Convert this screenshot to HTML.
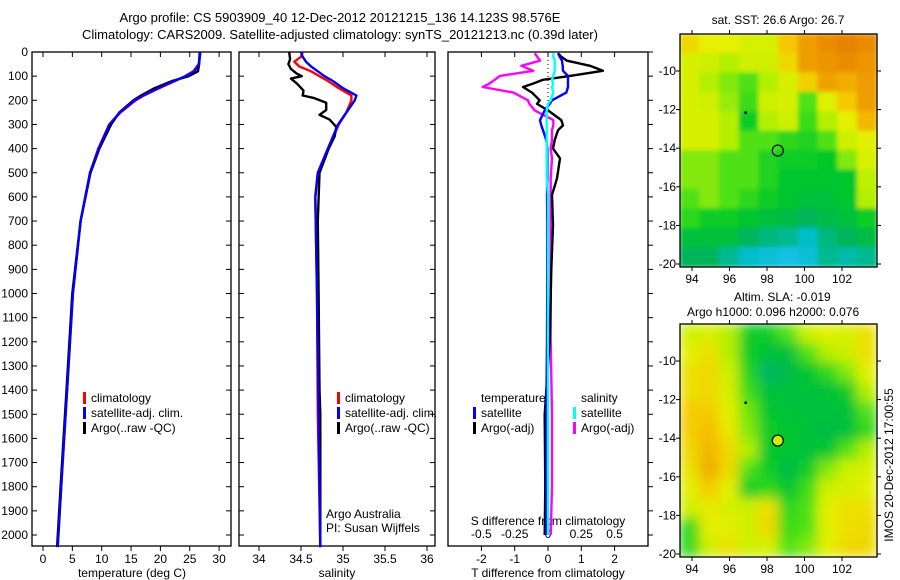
<!DOCTYPE html>
<html><head><meta charset="utf-8">
<style>
body{margin:0;background:#fff;}
svg{display:block;font-family:"Liberation Sans",sans-serif;}
text{fill:#000;}
</style></head>
<body>
<svg id="fig" width="900" height="580" viewBox="0 0 900 580" xmlns="http://www.w3.org/2000/svg">
<defs>
<filter id="blur1" x="0" y="0" width="1" height="1"><feGaussianBlur stdDeviation="2"/></filter>
<filter id="blur2" x="0" y="0" width="1" height="1"><feGaussianBlur stdDeviation="6"/></filter>
<clipPath id="clipTop"><rect x="680" y="34" width="197" height="233"/></clipPath>
<clipPath id="clipBot"><rect x="680" y="324" width="197" height="233"/></clipPath>
</defs>
<text x="340" y="22" font-size="13" text-anchor="middle">Argo profile: CS 5903909_40 12-Dec-2012 20121215_136 14.123S 98.576E</text>
<text x="340" y="39" font-size="13" text-anchor="middle">Climatology: CARS2009. Satellite-adjusted climatology: synTS_20121213.nc (0.39d later)</text>
<g id="panels"></g>
<text x="0" y="0" font-size="12" transform="translate(893,465) rotate(-90)" text-anchor="middle">IMOS 20-Dec-2012 17:00:55</text>
</svg>
<script>
// ---------- data ----------
const tempDepth = [0,50,80,100,120,150,180,200,250,300,400,500,700,1000,1400,1800,2050];
const tempClim  = [26.8,26.5,25.6,24.2,22.5,19.8,17.2,15.8,13.2,11.3,9.4,8.0,6.4,5.1,4.1,3.1,2.5];
const tempSat   = [26.8,26.6,25.8,24.3,22.3,19.6,17.0,15.6,13.1,11.3,9.5,8.0,6.4,5.1,4.1,3.1,2.5];
const tempArgo  = [26.7,26.6,26.4,24.8,22.0,19.0,16.7,15.4,13.0,11.6,9.6,8.1,6.4,5.0,4.0,3.0,2.4];

const salDepth  = [0,20,40,60,80,100,120,150,180,200,250,300,400,500,600,1000,1500,2050];
const salClim   = [34.52,34.50,34.42,34.48,34.62,34.72,34.82,34.95,35.10,35.10,35.04,34.95,34.82,34.70,34.67,34.69,34.70,34.73];
const salSat    = [34.50,34.52,34.56,34.62,34.70,34.78,34.88,35.00,35.16,35.14,35.04,34.94,34.82,34.70,34.67,34.69,34.71,34.73];
const argoSalDepth = [0,30,50,70,90,100,110,130,160,180,190,210,240,260,280,310,350,400,500,700,1000,1400,1500,2000,2050];
const salArgo   = [34.36,34.37,34.35,34.38,34.45,34.51,34.38,34.45,34.53,34.52,34.65,34.80,34.80,34.72,34.84,34.92,34.90,34.83,34.72,34.70,34.71,34.72,34.73,34.73,34.73];

const diffDepth = [5,20,36,57,78,99,115,131,145,168,200,215,242,282,304,324,365,400,440,523,592,716,900,1200,1500,1800,2000];
const dTsat  = [0.3,0.35,0.42,0.44,0.45,0.6,0.6,0.6,0.6,0.55,0.12,0.05,-0.1,-0.24,-0.2,-0.15,-0.05,-0.02,-0.02,-0.02,-0.03,-0.02,-0.02,-0.03,-0.05,-0.05,-0.05];
const dTargo = [0.3,0.4,0.57,1.26,1.65,0.66,-0.15,-0.45,-0.75,-0.48,-0.25,-0.33,0.0,0.4,0.45,0.3,0.2,0.15,0.36,0.27,0.12,0.15,0.1,0.05,-0.1,-0.08,-0.1];
const dSsat  = [0.04,0.04,0.05,0.05,0.05,0.04,0.03,0.04,0.03,0.04,0.02,0.0,-0.01,-0.01,-0.01,-0.01,-0.01,-0.01,-0.01,-0.01,0.0,0.0,0.0,0.0,0.0,0.0,0.0];
const dSargo = [-0.1,-0.08,-0.06,-0.2,-0.11,-0.36,-0.4,-0.44,-0.49,-0.26,-0.15,-0.14,-0.1,0.04,0.04,0.03,0.03,0.02,0.03,0.02,0.02,0.02,0.02,0.02,0.03,0.03,0.02];

const depthTicks = [0,100,200,300,400,500,600,700,800,900,1000,1100,1200,1300,1400,1500,1600,1700,1800,1900,2000];
const tempTicks = [0,5,10,15,20,25,30];
const salTicks = [34,34.5,35,35.5,36];
const dTTicks = [-2,-1,0,1,2];
const dSTicks = [-0.5,-0.25,0,0.25,0.5];
const dSTickLabels = ["-0.5","-0.25","0","0.25","0.5"];

const lonTicks = [94,96,98,100,102];
const latTicks = [10,12,14,16,18,20];
const sstGrid = [
[.72,.66,.66,.62,.62,.76,.86,.9,.93,.9],
[.62,.6,.55,.6,.6,.72,.86,.88,.9,.88],
[.62,.55,.5,.45,.55,.62,.74,.85,.82,.86],
[.62,.6,.52,.42,.6,.62,.45,.64,.76,.86],
[.62,.62,.55,.35,.55,.6,.42,.55,.66,.8],
[.62,.62,.55,.45,.45,.4,.38,.45,.6,.65],
[.5,.5,.45,.45,.38,.35,.35,.33,.5,.62],
[.5,.5,.45,.45,.38,.32,.32,.32,.32,.56],
[.45,.5,.45,.4,.35,.32,.3,.3,.32,.55],
[.4,.35,.35,.32,.3,.28,.25,.28,.3,.35],
[.3,.3,.3,.25,.22,.2,.15,.22,.25,.28],
[.25,.25,.2,.15,.1,.05,.1,.2,.18,.2]];
const slaGrid = [
[.6,.62,.55,.35,.35,.45,.6,.65,.62,.7],
[.65,.7,.55,.35,.3,.3,.45,.55,.6,.7],
[.7,.72,.6,.38,.24,.28,.32,.4,.5,.65],
[.7,.72,.62,.42,.3,.3,.3,.3,.35,.55],
[.75,.75,.65,.48,.32,.3,.3,.3,.3,.45],
[.75,.78,.68,.5,.35,.32,.3,.28,.3,.4],
[.72,.8,.72,.55,.32,.32,.3,.32,.45,.55],
[.7,.82,.72,.45,.35,.28,.35,.5,.6,.62],
[.65,.75,.65,.35,.4,.32,.42,.6,.62,.65],
[.6,.68,.62,.6,.7,.4,.45,.65,.7,.7],
[.4,.65,.65,.6,.72,.42,.45,.65,.7,.72],
[.4,.6,.7,.6,.62,.45,.5,.65,.72,.72]];
const floatLon = 98.576, floatLat = 14.123;

// ---------- helpers ----------
const NS = "http://www.w3.org/2000/svg";
const root = document.getElementById('panels');
function mk(tag, attrs, parent){const e=document.createElementNS(NS,tag);for(const k in attrs)e.setAttribute(k,attrs[k]);(parent||root).appendChild(e);return e;}
function txt(x,y,s,size,anchor,parent){const t=mk('text',{x:x,y:y,'font-size':size,'text-anchor':anchor||'middle'},parent);t.textContent=s;return t;}
const Y0=52, YPX=0.2415;
const yD = d => Y0 + d*YPX;
const xT = t => 43 + t*5.87;
const xS = s => 259 + (s-34)*84;
const xDT = v => 548 + v*33.3;
const xDS = v => 548 + v*133.2;

function panelFrame(x0,x1,name){
  const r=mk('rect',{x:x0,y:52,width:x1-x0,height:494,fill:'none',stroke:'#000','stroke-width':1.3});
  
  
}
function line(xs,ds,fx,color,name,w){
  let d='';
  for(let i=0;i<xs.length;i++) d+=(i?'L':'M')+fx(xs[i]).toFixed(1)+','+yD(ds[i]).toFixed(1);
  const p=mk('path',{d:d,fill:'none',stroke:color,'stroke-width':w||2.4,'stroke-linejoin':'round'});
  
  
}
function legend(x,y,items,name){
  const g=mk('g',{});
  
  
  items.forEach((it,i)=>{
    if(it[1]) mk('rect',{x:x,y:y+i*15-10,width:3,height:12,fill:it[1]},g);
    txt(x+8,y+i*15,it[0],12,'start',g);
  });
}

// ---------- panel 1: temperature ----------
panelFrame(32,231,'temperature-panel');
depthTicks.forEach(d=>{
  mk('line',{x1:32,x2:37,y1:yD(d),y2:yD(d),stroke:'#000'});
  mk('line',{x1:231,x2:226,y1:yD(d),y2:yD(d),stroke:'#000'});
  const t=txt(28,yD(d)+4,String(d),12,'end');
  
  
});
tempTicks.forEach(v=>{
  mk('line',{x1:xT(v),x2:xT(v),y1:52,y2:57,stroke:'#000'});
  mk('line',{x1:xT(v),x2:xT(v),y1:546,y2:551,stroke:'#000'});
  txt(xT(v),563,String(v),12);
});
txt(132,577,'temperature (deg C)',12);
line(tempClim,tempDepth,xT,'#f00','temp-climatology-line');
line(tempArgo,tempDepth,xT,'#000','temp-argo-line');
line(tempSat,tempDepth,xT,'#00f','temp-satellite-line');
legend(83,402,[['climatology','#f00'],['satellite-adj. clim.','#00f'],['Argo(..raw -QC)','#000']],'temperature-legend');

// ---------- panel 2: salinity ----------
panelFrame(239,435,'salinity-panel');
depthTicks.forEach(d=>{
  mk('line',{x1:239,x2:244,y1:yD(d),y2:yD(d),stroke:'#000'});
  mk('line',{x1:435,x2:430,y1:yD(d),y2:yD(d),stroke:'#000'});
});
salTicks.forEach(v=>{
  mk('line',{x1:xS(v),x2:xS(v),y1:52,y2:57,stroke:'#000'});
  mk('line',{x1:xS(v),x2:xS(v),y1:546,y2:551,stroke:'#000'});
  txt(xS(v),563,String(v),12);
});
txt(337,577,'salinity',12);
line(salClim,salDepth,xS,'#f00','sal-climatology-line');
line(salArgo,argoSalDepth,xS,'#000','sal-argo-line');
line(salSat,salDepth,xS,'#00f','sal-satellite-line');
legend(337,402,[['climatology','#f00'],['satellite-adj. clim.','#00f'],['Argo(..raw -QC)','#000']],'salinity-legend');
txt(326,518,'Argo Australia',12,'start');
txt(326,532,'PI: Susan Wijffels',12,'start');

// ---------- panel 3: differences ----------
panelFrame(448,648,'difference-panel');
depthTicks.forEach(d=>{
  mk('line',{x1:648,x2:653,y1:yD(d),y2:yD(d),stroke:'#000'});
});
dTTicks.forEach(v=>{
  mk('line',{x1:xDT(v),x2:xDT(v),y1:52,y2:57,stroke:'#000'});
  mk('line',{x1:xDT(v),x2:xDT(v),y1:546,y2:551,stroke:'#000'});
  txt(xDT(v),563,String(v),12);
});
dSTicks.forEach((v,i)=>{ txt(xDS(v),538,dSTickLabels[i],12); });
txt(548,525,'S difference from climatology',12);
txt(548,577,'T difference from climatology',12);
mk('line',{x1:548,x2:548,y1:52,y2:110,stroke:'#000','stroke-dasharray':'1,3'});
line(dSargo,diffDepth,xDS,'#f0f','s-argo-diff-line');
line(dTargo,diffDepth,xDT,'#000','t-argo-diff-line');
line(dTsat,diffDepth,xDT,'#00f','t-satellite-diff-line');
line(dSsat,diffDepth,xDS,'#0ff','s-satellite-diff-line');
legend(473,402,[['temperature',null],['satellite','#00f'],['Argo(-adj)','#000']],'temperature-diff-legend');
legend(573,402,[['salinity',null],['satellite','#0ff'],['Argo(-adj)','#f0f']],'salinity-diff-legend');

// ---------- maps ----------
const cmap=[[0,[32,192,240]],[0.15,[0,190,200]],[0.25,[0,180,90]],[0.33,[0,200,40]],[0.45,[80,225,20]],[0.56,[190,240,0]],[0.66,[230,240,0]],[0.76,[245,200,0]],[0.9,[235,140,0]],[1,[220,110,0]]];
function col(v){
  for(let i=1;i<cmap.length;i++){ if(v<=cmap[i][0]){const a=cmap[i-1],b=cmap[i],f=(v-a[0])/(b[0]-a[0]);return 'rgb('+a[1].map((c,k)=>Math.round(c+(b[1][k]-c)*f)).join(',')+')';} }
  return 'rgb(220,110,0)';
}
function map(top,grid,clip,blur,name,filledMarker){
  const L=680,R=877,T=top,B=top+233;
  const lonX = lon => 692 + (lon-94)*18.75;
  const latY = lat => top + 37 + (lat-10)*19.3;
  const g=mk('g',{'clip-path':'url(#'+clip+')'});
  
  
  const inner=mk('g',{filter:'url(#'+blur+')'},g);
  const nr=grid.length,nc=grid[0].length,cw=(R-L)/nc,ch=(B-T)/nr;
  for(let r=0;r<nr;r++)for(let c=0;c<nc;c++){
    const cell=mk('rect',{x:(L+c*cw-0.5).toFixed(1),y:(T+r*ch-0.5).toFixed(1),width:(cw+1).toFixed(1),height:(ch+1).toFixed(1),fill:col(grid[r][c])},inner);
    
  }
  const fr=mk('rect',{x:L,y:T,width:R-L,height:B-T,fill:'none',stroke:'#000','stroke-width':1.3});
  
  
  lonTicks.forEach(v=>{
    mk('line',{x1:lonX(v),x2:lonX(v),y1:T,y2:T-4,stroke:'#000'});
    mk('line',{x1:lonX(v),x2:lonX(v),y1:B,y2:B+4,stroke:'#000'});
    txt(lonX(v),B+16,String(v),12);
  });
  latTicks.forEach(v=>{
    mk('line',{x1:L,x2:L-4,y1:latY(v),y2:latY(v),stroke:'#000'});
    mk('line',{x1:R,x2:R+4,y1:latY(v),y2:latY(v),stroke:'#000'});
    txt(L-4,latY(v)+4,'-'+v,12,'end');
  });
  mk('rect',{x:lonX(96.85)-1,y:latY(12.15)-1,width:2.5,height:2.5,fill:'#000'});
  const m=mk('circle',{cx:lonX(floatLon),cy:latY(floatLat),r:5.5,fill:filledMarker?'#c8f000':'none',stroke:'#000','stroke-width':1.2});
  
  
}
map(34,sstGrid,'clipTop','blur1','sst-map',false);
map(324,slaGrid,'clipBot','blur2','sla-map',true);
txt(778,24,'sat. SST: 26.6 Argo: 26.7',12);
txt(734,301,'Altim. SLA: -0.019',12,'start');
txt(687,316,'Argo h1000: 0.096 h2000: 0.076',12,'start');
</script>
</body></html>
